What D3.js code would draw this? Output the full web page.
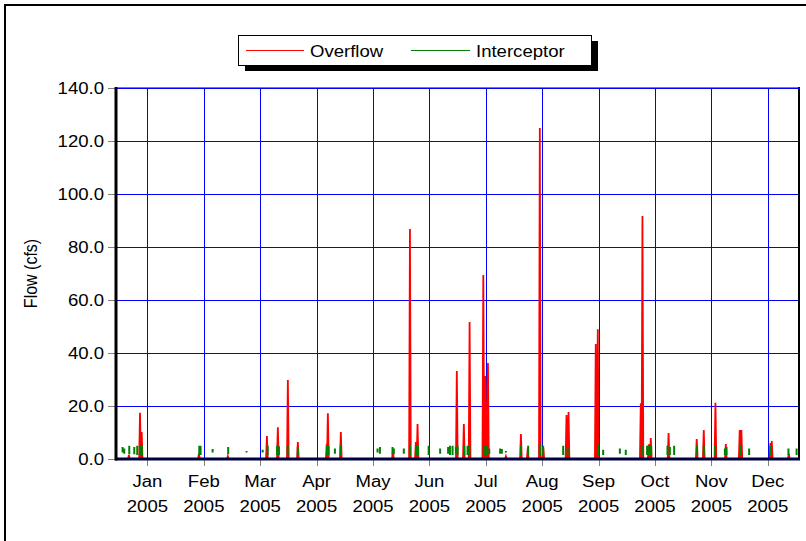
<!DOCTYPE html>
<html>
<head>
<meta charset="utf-8">
<script src="https://cdn.jsdelivr.net/npm/d3@7"></script>
<style>
  body { margin: 0; background: #fff; }
  svg { display: block; }
  text { font-family: "Liberation Sans", Arial, sans-serif; fill: #000; }
</style>
</head>
<body>
<div id="chart"></div>
<script>
// tick labels
const months = ["Jan", "Feb", "Mar", "Apr", "May", "Jun", "Jul", "Aug", "Sep", "Oct", "Nov", "Dec"];
const yearLabel = "2005";
const yTicks = [0, 20, 40, 60, 80, 100, 120, 140];

// Overflow spikes: day of year, peak flow (cfs)
const overflowDay  = [5.0, 11.0, 11.9, 42.8, 58.4, 79.5, 85.4, 90.8, 96.2, 111.8, 112.4, 119.4, 147.5, 156.7, 159.9, 160.8,
  182.0, 185.8, 188.9, 196.3, 197.4, 198.8, 208.5, 216.6, 220.3, 226.8, 228.7, 241.2, 242.3, 257.0, 258.1,
  281.3, 282.2, 285.6, 286.7, 296.3, 311.5, 315.3, 321.6, 327.2, 334.7, 335.6, 351.3, 352.0, 361.2];
const overflowPeak = [1.5, 17.4, 10.2, 2.0, 1.0, 8.7, 12.0, 29.8, 6.4, 5.7, 17.3, 10.2, 3.4, 86.8, 6.4, 13.2,
  33.2, 13.2, 51.7, 69.4, 31.3, 36.2, 1.0, 9.4, 4.0, 124.9, 4.0, 16.6, 17.7, 43.4, 49.0,
  21.0, 91.7, 5.5, 7.9, 9.8, 7.5, 10.9, 21.2, 5.6, 10.9, 10.9, 6.0, 6.8, 2.0];

// Interceptor flow: day of year, low and high values (cfs)
const interceptorDay  = [1.6, 2.5, 5.2, 7.9, 9.5, 11.3, 12.0, 43.0, 43.7, 50.2, 58.6, 68.5, 77.2, 79.9, 85.0, 86.0, 90.7,
  96.2, 111.9, 112.8, 116.2, 119.3, 139.2, 140.5, 147.3, 148.0, 153.4, 156.7, 160.3, 161.1, 166.8, 173.0,
  177.3, 178.3, 179.7, 181.5, 182.4, 186.0, 187.8, 188.7, 196.6, 197.7, 199.5, 205.4, 206.3, 208.5, 216.6,
  220.5, 226.8, 228.6, 239.4, 241.8, 258.3, 261.0, 270.0, 273.2, 281.9, 284.7, 285.8, 286.9, 295.7, 297.0,
  299.3, 311.7, 315.3, 321.4, 326.7, 327.6, 334.9, 339.8, 351.3, 361.0, 365.4];
const interceptorLow  = [2.5, 2.0, 1.8, 1.8, 1.5, 1.5, 1.5, 1.5, 1.5, 2.5, 1.8, 2.5, 2.5, 1.5, 1.5, 1.5, 1.5,
  1.5, 1.5, 1.5, 2.0, 1.5, 2.5, 2.0, 1.8, 1.8, 2.0, 1.5, 1.5, 1.5, 1.5, 2.0,
  2.0, 1.5, 1.5, 2.0, 1.5, 1.5, 1.5, 1.5, 1.5, 1.5, 1.8, 2.0, 2.0, 2.5, 1.5,
  1.5, 1.5, 1.5, 1.5, 1.5, 1.5, 1.5, 2.0, 1.5, 1.5, 1.5, 1.5, 1.5, 1.5, 1.5,
  1.5, 1.5, 1.5, 1.5, 1.5, 1.5, 1.5, 1.5, 1.5, 1.5, 1.5];
const interceptorHigh = [4.5, 4.0, 5.0, 4.5, 5.0, 5.0, 5.0, 5.0, 5.0, 3.8, 4.5, 3.0, 3.5, 5.0, 5.0, 4.8, 5.0,
  4.5, 5.0, 5.0, 4.0, 5.0, 4.0, 4.5, 4.5, 4.0, 4.0, 5.0, 5.0, 5.0, 5.0, 4.0,
  4.5, 5.0, 5.0, 4.5, 5.0, 5.0, 5.0, 5.0, 5.0, 5.0, 4.0, 4.0, 3.8, 3.0, 5.0,
  5.0, 5.5, 5.0, 5.0, 4.5, 5.5, 3.5, 4.0, 3.5, 5.0, 5.0, 5.0, 5.0, 5.0, 4.5,
  5.0, 5.0, 5.0, 5.0, 4.0, 4.5, 5.0, 4.0, 5.0, 4.0, 4.0];

const width = 806, height = 541;
const plot = { left: 115, right: 799, top: 88, bottom: 459 };
const stretch = 1.16; // the original text is drawn a bit wide

const svg = d3.select('#chart').append('svg')
  .attr('width', width)
  .attr('height', height);

const x = d3.scaleLinear().domain([-2.5, 366.7]).range([plot.left, plot.right]);
const y = d3.scaleLinear().domain([0, 140]).range([plot.bottom, plot.top]);
const monthTicks = months.map((m, i) => 15 + i * 30.44);

function label(g, px, py, txt, anchor, size) {
  return g.append('text')
    .attr('transform', 'translate(' + px + ',' + py + ') scale(' + stretch + ',1)')
    .attr('text-anchor', anchor)
    .style('font-size', size + 'px')
    .text(txt);
}

// outer frame
svg.append('rect')
  .attr('x', 5).attr('y', 5)
  .attr('width', 900).attr('height', 900)
  .attr('fill', 'none')
  .attr('stroke', '#000')
  .attr('stroke-width', 2);

// grid
const grid = svg.append('g');
grid.selectAll('.hgrid')
  .data(yTicks.filter(d => d > 0))
  .enter().append('line')
    .attr('x1', plot.left).attr('x2', plot.right)
    .attr('y1', d => Math.round(y(d)) + 0.5).attr('y2', d => Math.round(y(d)) + 0.5)
    .attr('stroke', '#0000ff');
grid.selectAll('.vgrid')
  .data(monthTicks)
  .enter().append('line')
    .attr('x1', d => Math.round(x(d)) + 0.5).attr('x2', d => Math.round(x(d)) + 0.5)
    .attr('y1', plot.top).attr('y2', plot.bottom)
    .attr('stroke', '#0000ff');

// right border
svg.append('line')
  .attr('x1', plot.right).attr('x2', plot.right)
  .attr('y1', plot.top - 1).attr('y2', plot.bottom)
  .attr('stroke', '#000').attr('stroke-width', 2);

// ticks
svg.selectAll('.ytick')
  .data(yTicks)
  .enter().append('line')
    .attr('x1', plot.left - 7).attr('x2', plot.left)
    .attr('y1', d => Math.round(y(d)) + 0.5).attr('y2', d => Math.round(y(d)) + 0.5)
    .attr('stroke', '#808080');
svg.selectAll('.xtick')
  .data(monthTicks)
  .enter().append('line')
    .attr('x1', d => Math.round(x(d)) + 0.5).attr('x2', d => Math.round(x(d)) + 0.5)
    .attr('y1', plot.bottom).attr('y2', plot.bottom + 7)
    .attr('stroke', '#808080');

// series
const spikeLine = d3.line()
  .defined(p => p)
  .x(p => x(p[0]))
  .y(p => y(p[1]));

const overflowPts = overflowDay.flatMap((d, i) =>
  [[d - 0.45, 0], [d, overflowPeak[i]], [d + 0.45, 0], null]);
svg.append('path')
  .attr('d', spikeLine(overflowPts))
  .attr('fill', '#ff0000')
  .attr('stroke', '#ff0000')
  .attr('stroke-width', 1.8)
  .attr('stroke-linejoin', 'miter');

const interceptorPts = interceptorDay.flatMap((d, i) =>
  [[d, interceptorLow[i]], [d, interceptorHigh[i]], null]);
svg.append('path')
  .attr('d', spikeLine(interceptorPts))
  .attr('fill', 'none')
  .attr('stroke', '#008000')
  .attr('stroke-width', 2);

// top border, left axis and bottom axis
svg.append('line')
  .attr('x1', plot.left).attr('x2', plot.right + 1)
  .attr('y1', plot.top).attr('y2', plot.top)
  .attr('stroke', '#000').attr('stroke-width', 1);
svg.append('line')
  .attr('x1', plot.left).attr('x2', plot.right + 1)
  .attr('y1', plot.top + 0.5).attr('y2', plot.top + 0.5)
  .attr('stroke', '#0000ff').attr('stroke-width', 1);
svg.append('line')
  .attr('x1', plot.left).attr('x2', plot.right + 1)
  .attr('y1', plot.bottom).attr('y2', plot.bottom)
  .attr('stroke', '#000040').attr('stroke-width', 3);
svg.append('line')
  .attr('x1', plot.left + 1).attr('x2', plot.left + 1)
  .attr('y1', plot.top - 1).attr('y2', plot.bottom + 1.5)
  .attr('stroke', '#000').attr('stroke-width', 3);

// tick labels
yTicks.forEach(d => label(svg, 104, y(d) + 6, d.toFixed(1), 'end', 16));
monthTicks.forEach((d, i) => {
  label(svg, x(d), 487, months[i], 'middle', 16);
  label(svg, x(d), 512, yearLabel, 'middle', 16);
});

// y axis title
svg.append('text')
  .attr('transform', 'translate(37,' + ((plot.top + plot.bottom) / 2) + ') rotate(-90) scale(1,' + stretch + ')')
  .attr('text-anchor', 'middle')
  .style('font-size', '16px')
  .text('Flow (cfs)');

// legend
const legend = svg.append('g');
legend.append('rect')
  .attr('x', 245).attr('y', 41).attr('width', 353).attr('height', 30)
  .attr('fill', '#000');
legend.append('rect')
  .attr('x', 238.5).attr('y', 35.5).attr('width', 353).attr('height', 30)
  .attr('fill', '#fff').attr('stroke', '#000');
legend.append('line')
  .attr('x1', 246).attr('x2', 304).attr('y1', 50.5).attr('y2', 50.5)
  .attr('stroke', '#ff0000');
label(legend, 310, 57, 'Overflow', 'start', 16);
legend.append('line')
  .attr('x1', 411).attr('x2', 470).attr('y1', 50.5).attr('y2', 50.5)
  .attr('stroke', '#008000');
label(legend, 476, 57, 'Interceptor', 'start', 16);
</script>
</body>
</html>
